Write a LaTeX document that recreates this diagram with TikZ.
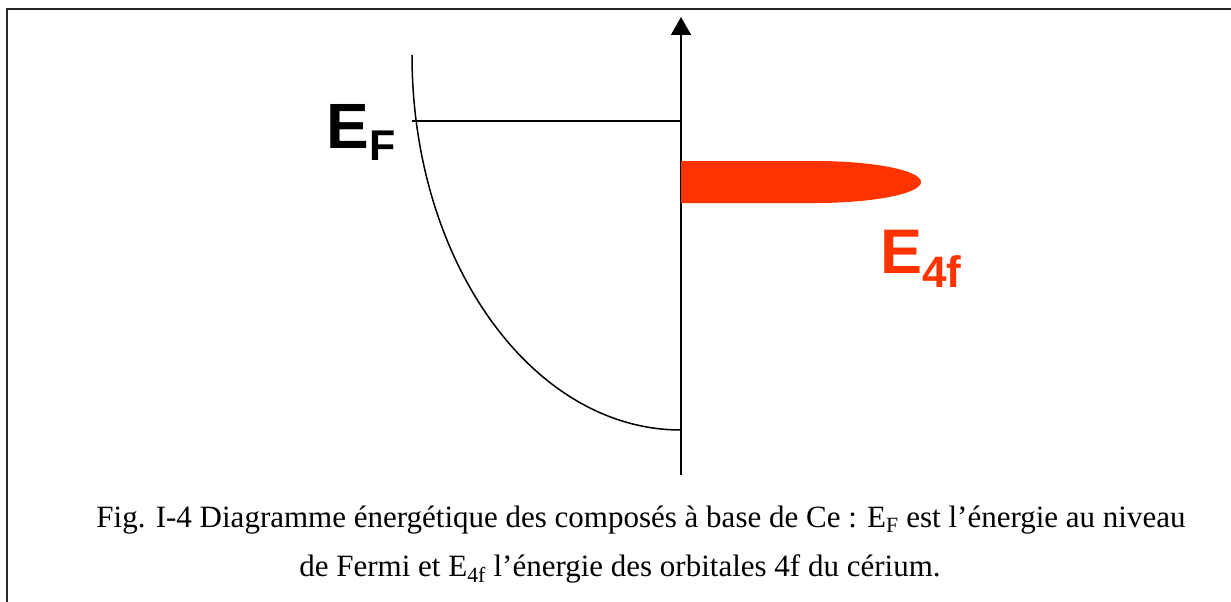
\documentclass[tikz,border=0pt]{standalone}
\usepackage{fontspec}
\setmainfont{Liberation Serif}
\newfontfamily\labelfont{Liberation Sans}
\usetikzlibrary{arrows.meta}
\definecolor{fred}{HTML}{FF3300}
\tikzset{
  thinline/.style={line width=1.5pt, black},
  frameline/.style={line width=2.2pt, black!85},
  biglabel/.style={inner sep=0pt, anchor=base west, font=\labelfont\bfseries},
  captionline/.style={inner sep=0pt, anchor=base, font=\fontsize{31pt}{36pt}\selectfont}
}
\begin{document}
\begin{tikzpicture}[x=1pt,y=-1pt]
\useasboundingbox (0,0) rectangle (1231,602);
% frame (left and top only)
\coordinate (fbl) at (7,602);
\coordinate (ftl) at (7,9);
\coordinate (ftr) at (1231,9);
\draw[frameline] (fbl) -- (ftl) -- (ftr);
% energy axis
\coordinate (axb) at (681,475);
\coordinate (axt) at (681,17);
\draw[thinline, -{Triangle[width=20pt,length=18pt]}] (axb) -- (axt);
% density of states curve
\coordinate (ctop) at (412,55);
\coordinate (cbot) at (681,430);
\draw[thinline] (ctop) arc[start angle=180, end angle=270, x radius=269, y radius=-375];
% Fermi level
\coordinate (efl) at (412,121);
\coordinate (efr) at (681,121);
\draw[thinline] (efl) -- (efr);
% 4f band
\coordinate (b1) at (681,161);
\coordinate (b2) at (815,161);
\fill[fred] (b1) -- (b2) arc[start angle=90, end angle=-90, x radius=106, y radius=-21] -- (681,203) -- cycle;
% labels
\node[biglabel, font=\labelfont\bfseries\fontsize{64pt}{64pt}\selectfont] (EF) at (326,148) {E};
\node[biglabel, font=\labelfont\bfseries\fontsize{43pt}{43pt}\selectfont] (EFs) at (369,160) {F};
\node[biglabel, text=fred, font=\labelfont\bfseries\fontsize{63pt}{63pt}\selectfont] (E4) at (880,273) {E};
\node[biglabel, text=fred, font=\labelfont\bfseries\fontsize{44pt}{44pt}\selectfont] (E4s) at (922,287) {4f};
% caption
\node[captionline] (cap1) at (641,527) {Fig. I-4 Diagramme énergétique des composés à base de Ce : E\textsubscript{F} est l’énergie au niveau};
\node[captionline] (cap2) at (620,576) {de Fermi et E\textsubscript{4f} l’énergie des orbitales 4f du cérium.};
\end{tikzpicture}
\end{document}
